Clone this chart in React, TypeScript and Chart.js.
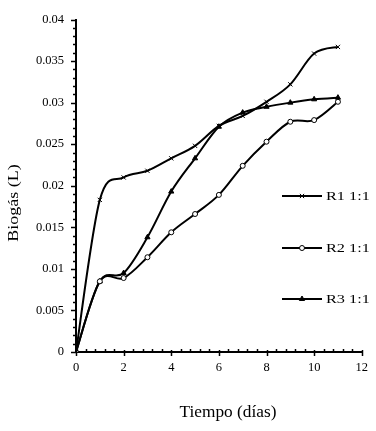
import React, { useEffect, useRef } from "react";
import { Chart, registerables } from "chart.js";

Chart.register(...registerables);

const days = [0, 1, 2, 3, 4, 5, 6, 7, 8, 9, 10, 11];
const r1Values = [0, 0.0183, 0.0210, 0.0218, 0.0233, 0.0248, 0.0272, 0.0284, 0.0301, 0.0322, 0.0359, 0.0367];
const r2Values = [0, 0.0085, 0.0089, 0.0114, 0.0144, 0.0166, 0.0189, 0.0224, 0.0253, 0.0277, 0.0279, 0.0301];
const r3Values = [0, 0.0085, 0.0095, 0.0138, 0.0193, 0.0233, 0.0271, 0.0288, 0.0295, 0.0300, 0.0304, 0.0306];
const seriesNames = ["R1 1:1", "R2 1:1", "R3 1:1"];
const xTitle = "Tiempo (días)";
const yTitle = "Biogás (L)";

const FONT = "'Liberation Serif', 'Times New Roman', serif";

function drawMarker(ctx: CanvasRenderingContext2D, style: string, x: number, y: number, r: number, fill: string) {
  ctx.save();
  ctx.strokeStyle = "#000";
  ctx.fillStyle = fill;
  ctx.lineWidth = 1;
  ctx.beginPath();
  if (style === "crossRot") {
    const d = r * Math.SQRT1_2;
    ctx.moveTo(x - d, y - d);
    ctx.lineTo(x + d, y + d);
    ctx.moveTo(x + d, y - d);
    ctx.lineTo(x - d, y + d);
    ctx.stroke();
  } else if (style === "circle") {
    ctx.arc(x, y, r, 0, Math.PI * 2);
    ctx.fill();
    ctx.stroke();
  } else {
    const h = r * 1.5;
    ctx.moveTo(x, y - r);
    ctx.lineTo(x + r * 0.866, y + r * 0.5);
    ctx.lineTo(x - r * 0.866, y + r * 0.5);
    ctx.closePath();
    ctx.fill();
    ctx.stroke();
    void h;
  }
  ctx.restore();
}

// Excel-like (uniform Catmull-Rom) smoothing of the library's own point positions
const smoothPlugin = {
  id: "excelSmooth",
  beforeDatasetDraw(chart: any, args: any) {
    const meta = args.meta;
    const pts = meta.data;
    const n = pts.length;
    for (let i = 0; i < n; i++) {
      const p = pts[i];
      const prev = pts[Math.max(0, i - 1)];
      const next = pts[Math.min(n - 1, i + 1)];
      const dx = (next.x - prev.x) / 6;
      const dy = (next.y - prev.y) / 6;
      p.cp1x = p.x - dx;
      p.cp1y = p.y - dy;
      p.cp2x = p.x + dx;
      p.cp2y = p.y + dy;
    }
    if (meta.dataset) meta.dataset._pointsUpdated = true;
  },
};

const decorPlugin = {
  id: "decor",
  afterDraw(chart: any) {
    const ctx = chart.ctx as CanvasRenderingContext2D;
    const xs = chart.scales.x;
    const ys = chart.scales.y;
    const area = chart.chartArea;
    ctx.save();
    ctx.strokeStyle = "#000";
    ctx.lineWidth = 1.5;
    for (let i = 0; i <= 40; i++) {
      const v = i * 0.001;
      const py = Math.round(ys.getPixelForValue(v)) + 0.5;
      const major = i % 5 === 0;
      ctx.beginPath();
      ctx.moveTo(area.left - (major ? 5 : 3), py);
      ctx.lineTo(area.left + (major ? 0 : 1), py);
      ctx.stroke();
    }
    for (let i = 0; i <= 30; i++) {
      const v = i * 0.4;
      const px = Math.round(xs.getPixelForValue(v)) + 0.5;
      const major = i % 5 === 0;
      ctx.beginPath();
      ctx.moveTo(px, area.bottom + (major ? 4 : 0));
      ctx.lineTo(px, area.bottom - (major ? 2 : 3));
      ctx.stroke();
    }
    ctx.restore();

    ctx.save();
    ctx.fillStyle = "#000";
    ctx.font = `16px ${FONT}`;
    ctx.textAlign = "center";
    ctx.textBaseline = "middle";
    ctx.translate(228, 413);
    ctx.scale(1.08, 1);
    ctx.fillText(xTitle, 0, 0);
    ctx.restore();

    ctx.save();
    ctx.fillStyle = "#000";
    ctx.font = `15px ${FONT}`;
    ctx.textAlign = "center";
    ctx.textBaseline = "middle";
    ctx.translate(14, 203);
    ctx.rotate(-Math.PI / 2);
    ctx.scale(1.2, 1);
    ctx.fillText(yTitle, 0, 0);
    ctx.restore();

    const legendY = [196, 248, 299];
    chart.data.datasets.forEach((ds: any, i: number) => {
      const y = legendY[i];
      ctx.save();
      ctx.strokeStyle = "#000";
      ctx.lineWidth = 2;
      ctx.beginPath();
      ctx.moveTo(282, y);
      ctx.lineTo(322, y);
      ctx.stroke();
      ctx.restore();
      drawMarker(ctx, ds.pointStyle, 302, y, ds.pointRadius, ds.pointBackgroundColor);
      ctx.save();
      ctx.fillStyle = "#000";
      ctx.font = `13px ${FONT}`;
      ctx.textAlign = "left";
      ctx.textBaseline = "middle";
      ctx.translate(326, y + 1);
      ctx.scale(1.25, 1);
      ctx.fillText(ds.label, 0, 0);
      ctx.restore();
    });
  },
};

export default function App() {
  const ref = useRef<HTMLCanvasElement | null>(null);
  useEffect(() => {
    document.body.style.margin = "0";
    const canvas = ref.current!;
    const mk = (label: string, vals: number[], style: string, fill: string, r: number) => ({
      label,
      data: days.map((d, i) => ({ x: d, y: vals[i] })),
      borderColor: "#000",
      backgroundColor: fill,
      borderWidth: 2,
      tension: 0.4,
      pointStyle: style,
      pointRadius: r,
      pointBorderWidth: 1,
      pointBorderColor: "#000",
      pointBackgroundColor: fill,
      fill: false,
    });
    const chart = new Chart(canvas, {
      type: "line",
      data: {
        datasets: [
          mk(seriesNames[0], r1Values, "crossRot", "#000", 3),
          mk(seriesNames[1], r2Values, "circle", "#fff", 2.5),
          mk(seriesNames[2], r3Values, "triangle", "#000", 3),
        ],
      },
      options: {
        animation: false,
        responsive: false,
        devicePixelRatio: 1,
        layout: { padding: { top: 8, right: 8, left: 0, bottom: 0 } },
        plugins: { legend: { display: false }, tooltip: { enabled: false } },
        scales: {
          x: {
            type: "linear",
            min: 0,
            max: 12,
            grid: { display: false, drawTicks: false },
            border: { display: true, color: "#000", width: 2 },
            ticks: { stepSize: 2, padding: 8, color: "#000", font: { family: FONT, size: 12.5 }, maxRotation: 0 },
            afterFit: (s: any) => { s.height = 79; },
          },
          y: {
            min: 0,
            max: 0.04,
            grid: { display: false, drawTicks: false },
            border: { display: true, color: "#000", width: 2 },
            ticks: {
              stepSize: 0.005,
              padding: 12,
              color: "#000",
              font: { family: FONT, size: 12.5 },
              callback: (v: any) => {
                const n = Math.round(Number(v) * 1000) / 1000;
                return n === 0 ? "0" : String(n);
              },
            },
            afterFit: (s: any) => { s.width = 76; },
          },
        },
      },
      plugins: [smoothPlugin, decorPlugin],
    });
    return () => chart.destroy();
  }, []);
  return (
    <div style={{ position: "relative", width: 376, height: 431, background: "#fff" }}>
      <canvas ref={ref} width={376} height={431} style={{ display: "block", width: 376, height: 431 }} />
    </div>
  );
}
